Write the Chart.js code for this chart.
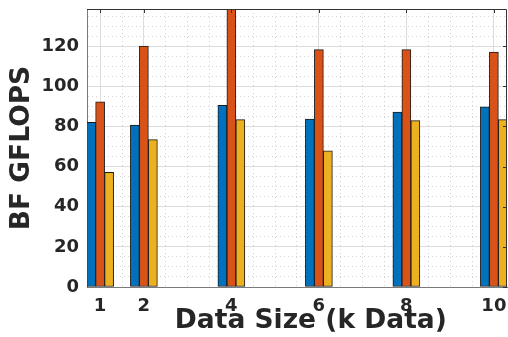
<!DOCTYPE html>
<html>
<head>
<meta charset="utf-8">
<script src="https://cdn.jsdelivr.net/npm/chart.js@4/dist/chart.umd.min.js"></script>
<style>
    html, body { margin: 0; padding: 0; background: #fff; }
    #wrap { width: 508px; height: 337px; }
</style>
</head>
<body>
<div id="wrap"><canvas id="grafica"></canvas></div>
<script>
// ── DATOS ──────────────────────────────────────────────
const dataSizes = [1, 2, 4, 6, 8, 10];
const serieA = [82.1, 80.7, 90.5, 83.7, 87.1, 89.7];
const serieB = [92.2, 120.0, 141.0, 118.3, 118.3, 117.0];
const serieC = [57.1, 73.4, 83.4, 67.9, 82.9, 83.4];
const yTicks = [0, 20, 40, 60, 80, 100, 120];
const xTicks = [1, 2, 4, 6, 8, 10];

const colores = ['#0072BD', '#D95319', '#EDB120'];
const fuente = 'DejaVu Sans';
const texto = '#262626';

const aPuntos = vals => vals.map((v, i) => ({ x: dataSizes[i], y: v }));

// grid menor: cada 0.5 en x, cada 5 en y
const xMinor = [];
for (let v = 1; v <= 10; v += 0.5) xMinor.push(v);
const yMinor = [];
for (let v = 0; v <= 135; v += 5) yMinor.push(v);

const esMayorX = v => xTicks.includes(v);
const esMayorY = v => yTicks.includes(v);

// ── MARCO Y TICKS INTERIORES ───────────────────────────
const marco = {
    id: 'marco',
    afterDatasetsDraw(chart) {
        const { ctx, chartArea: a, scales } = chart;
        ctx.save();
        ctx.strokeStyle = '#333';
        ctx.lineWidth = 1;
        ctx.beginPath();
        ctx.moveTo(a.left, a.top + 0.5);
        ctx.lineTo(a.right - 0.5, a.top + 0.5);
        ctx.lineTo(a.right - 0.5, a.bottom);
        xTicks.forEach(v => {
            const px = Math.round(scales.x.getPixelForValue(v)) + 0.5;
            ctx.moveTo(px, a.top);
            ctx.lineTo(px, a.top + 4);
        });
        yTicks.forEach(v => {
            const py = Math.round(scales.y.getPixelForValue(v)) + 0.5;
            ctx.moveTo(a.right, py);
            ctx.lineTo(a.right - 4, py);
        });
        ctx.stroke();
        ctx.restore();
    }
};

const dataset = (vals, color) => ({
    data: aPuntos(vals),
    backgroundColor: color,
    borderColor: '#1a1a1a',
    borderWidth: 1,
    borderSkipped: false,
    barThickness: 9
});

new Chart(document.getElementById('grafica'), {
    type: 'bar',
    data: {
        datasets: [
            dataset(serieA, colores[0]),
            dataset(serieB, colores[1]),
            dataset(serieC, colores[2])
        ]
    },
    options: {
        responsive: true,
        maintainAspectRatio: false,
        animation: false,
        layout: { padding: { top: 9, right: 1, bottom: 0, left: 0 } },
        plugins: { legend: { display: false }, tooltip: { enabled: false } },
        scales: {
            x: {
                type: 'linear',
                min: 0.7,
                max: 10.3,
                offset: false,
                afterBuildTicks: s => { s.ticks = xMinor.map(v => ({ value: v })); },
                afterFit: s => { s.height = 50; s.paddingLeft = 0; s.paddingRight = 0; },
                ticks: {
                    autoSkip: false,
                    maxRotation: 0,
                    padding: 9,
                    color: texto,
                    font: { family: fuente, size: 18, weight: 'bold' },
                    callback: v => esMayorX(v) ? String(v) : ''
                },
                grid: {
                    offset: false,
                    drawTicks: false,
                    lineWidth: 1,
                    color: c => esMayorX(c.tick && c.tick.value) ? '#dcdcdc' : '#d6d6d6'
                },
                border: {
                    color: '#7a7a7a',
                    dash: c => esMayorX(c.tick && c.tick.value) ? [] : [1, 3]
                },
                title: {
                    display: true,
                    text: '   Data Size (k Data)',
                    color: texto,
                    padding: { top: 0, bottom: 3 },
                    font: { family: fuente, size: 26.5, weight: 'bold', lineHeight: 1 }
                }
            },
            y: {
                min: 0,
                max: 138.5,
                afterBuildTicks: s => { s.ticks = yMinor.map(v => ({ value: v })); },
                afterFit: s => { s.width = 87; s.paddingTop = 0; s.paddingBottom = 0; },
                ticks: {
                    autoSkip: false,
                    padding: 8,
                    color: texto,
                    font: { family: fuente, size: 18, weight: 'bold' },
                    callback: v => esMayorY(v) ? String(v) : ''
                },
                grid: {
                    drawTicks: false,
                    lineWidth: 1,
                    color: c => esMayorY(c.tick && c.tick.value) ? '#dcdcdc' : '#d6d6d6'
                },
                border: {
                    color: '#7a7a7a',
                    dash: c => esMayorY(c.tick && c.tick.value) ? [] : [1, 3]
                },
                title: {
                    display: true,
                    text: 'BF GFLOPS',
                    color: texto,
                    padding: { top: 9, bottom: 0 },
                    font: { family: fuente, size: 26.5, weight: 'bold', lineHeight: 1 }
                }
            }
        }
    },
    plugins: [marco]
});
</script>
</body>
</html>
